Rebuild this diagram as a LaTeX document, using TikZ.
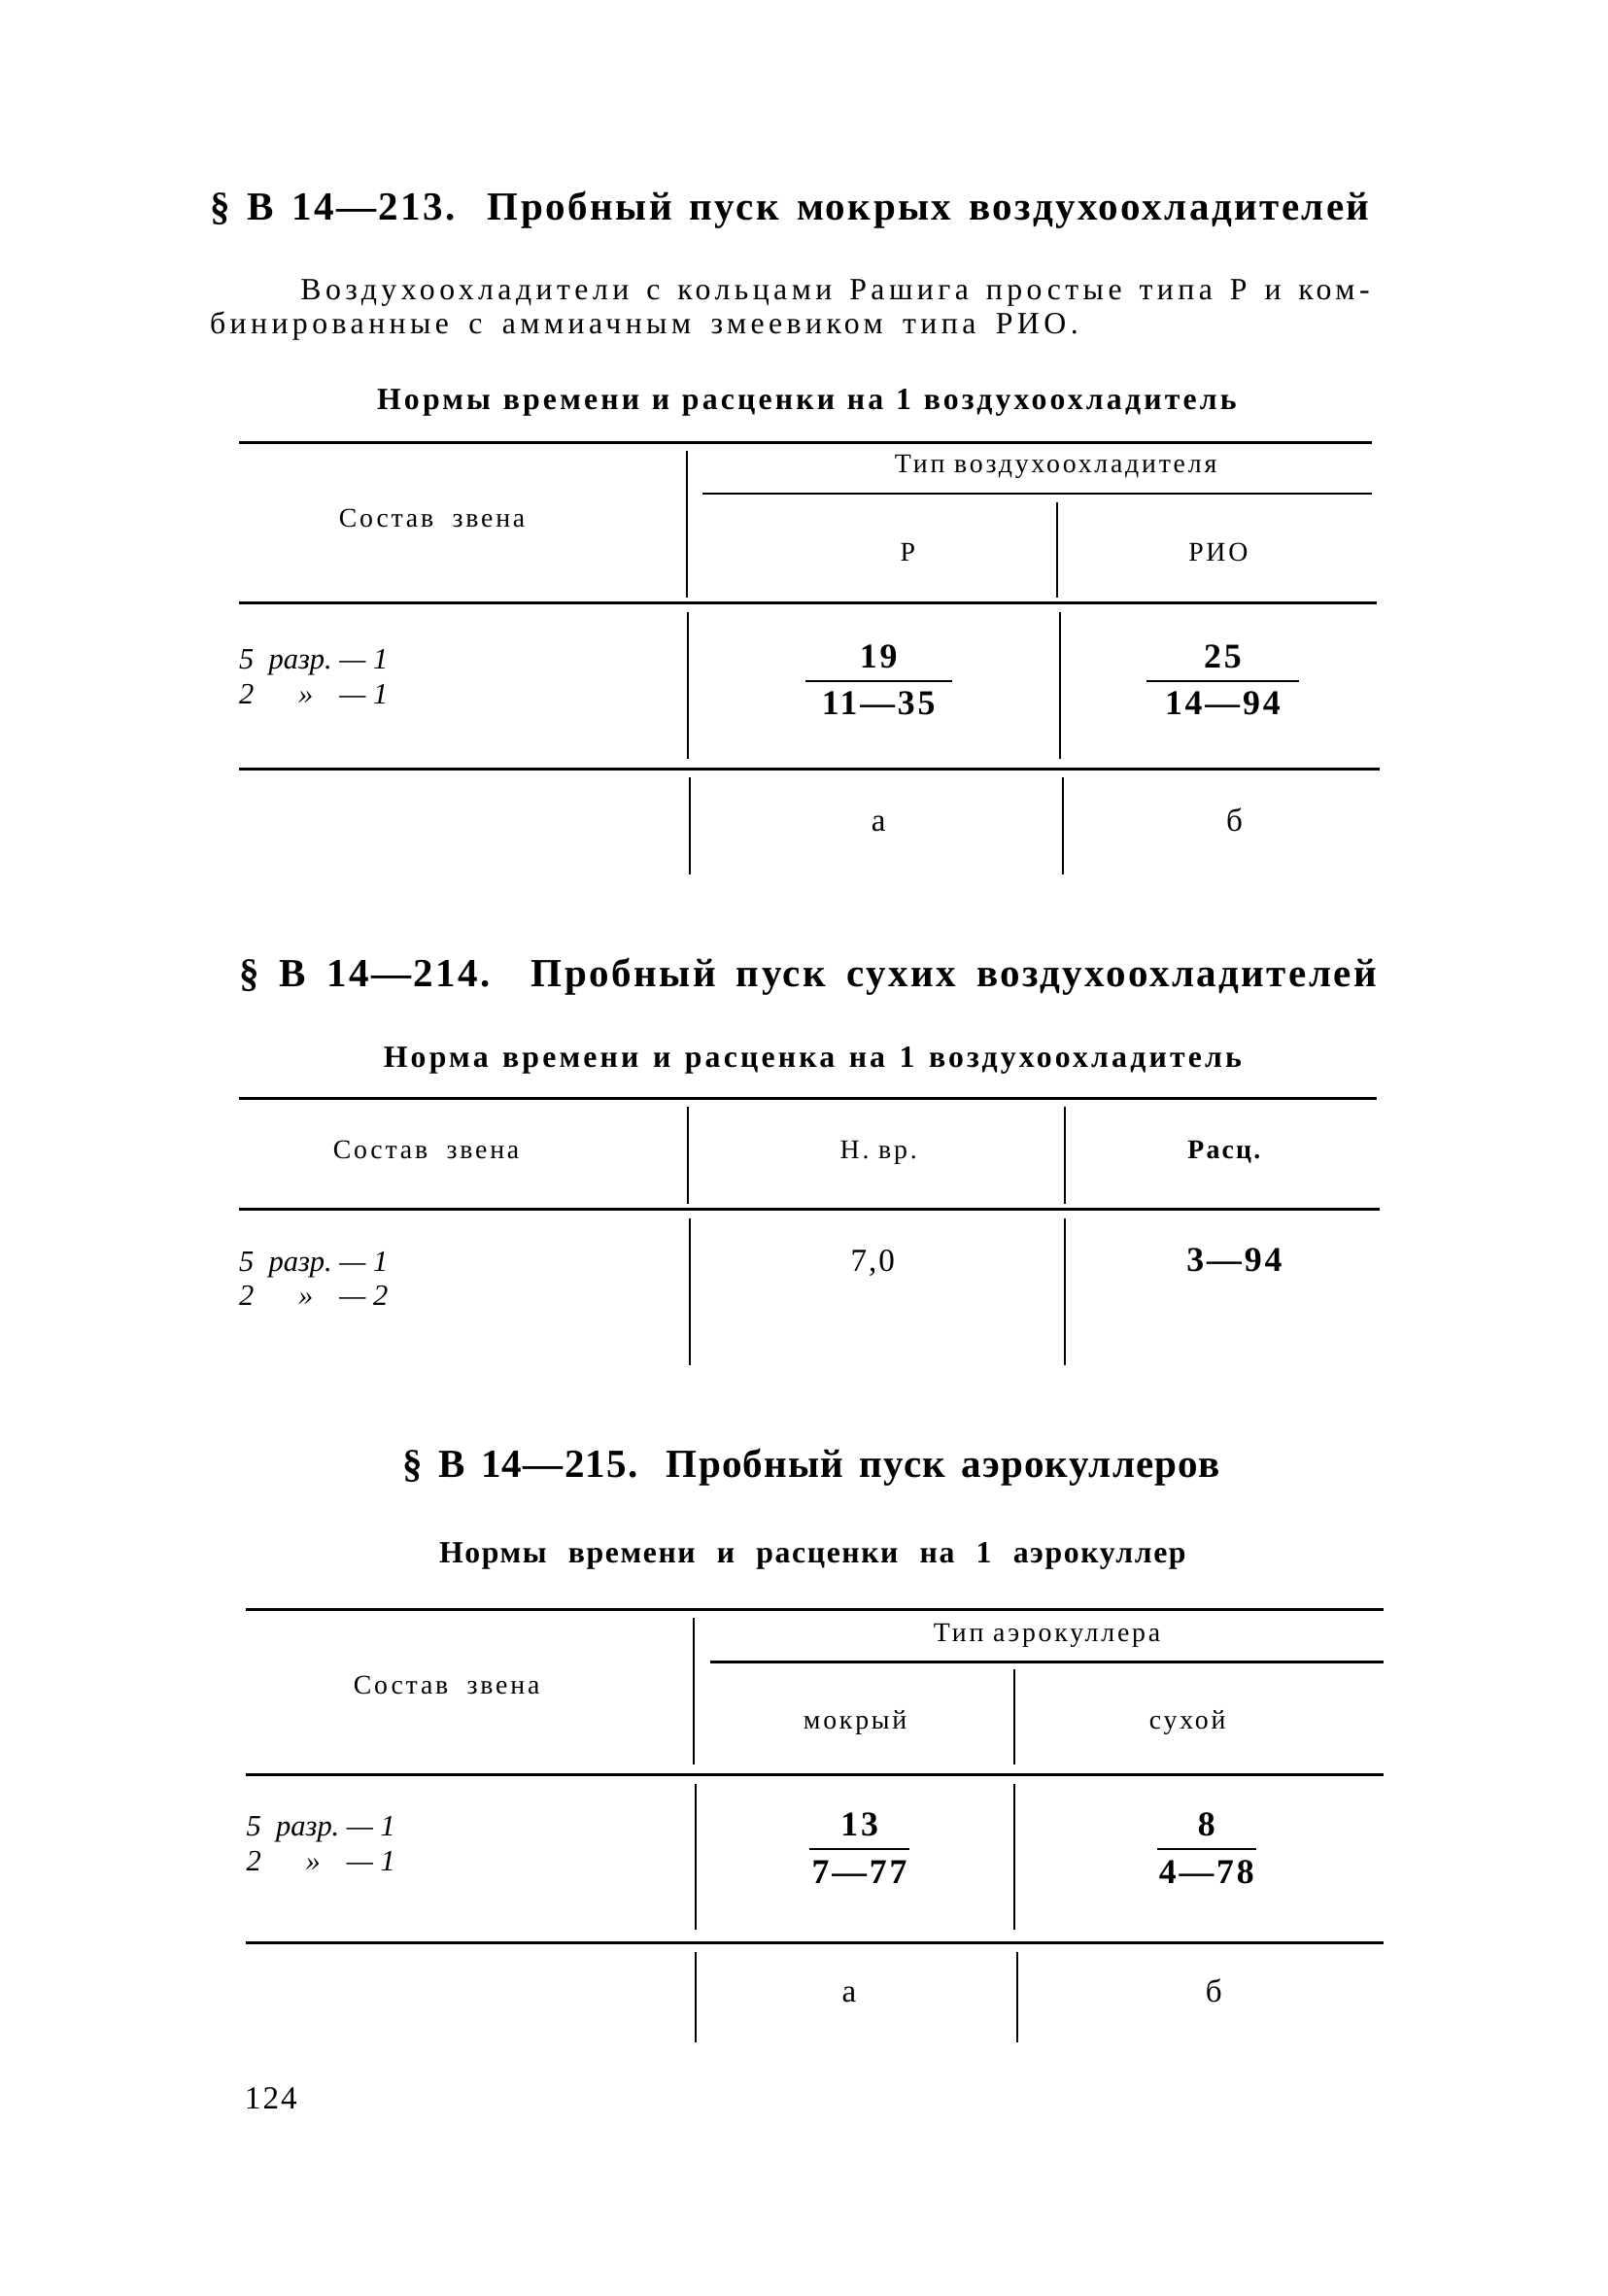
\documentclass[tikz,border=0pt]{standalone}
\usepackage{fontspec}
\setmainfont{Liberation Serif}
\usetikzlibrary{positioning}
\newcommand{\spread}[2]{\makebox[#1][s]{#2}}
\newcommand{\crewtab}[1]{\begin{tabular}{@{}l@{\ \ }l@{\ }l@{}}5 & разр. & — 1\\ 2 & \ \ \ \ » & — #1\end{tabular}}

\begin{document}
\begin{tikzpicture}[x=0.2mm,y=-0.2mm,
		hrule/.style={line width=1.1pt},
		vrule/.style={line width=0.7pt},
		head/.style={anchor=base west,inner sep=0,font=\bfseries\fontsize{15.5}{18}\selectfont\addfontfeature{LetterSpace=6}},
		para/.style={anchor=base west,inner sep=0,font=\fontsize{12}{14}\selectfont\addfontfeature{LetterSpace=14}},
		title/.style={anchor=base,inner sep=0,font=\bfseries\fontsize{12}{14}\selectfont\addfontfeature{LetterSpace=10}},
		colhead/.style={anchor=base,inner sep=0,font=\fontsize{10.5}{12}\selectfont\addfontfeature{LetterSpace=10}},
		cell/.style={anchor=base,inner sep=0,font=\fontsize{12.5}{14}\selectfont\addfontfeature{LetterSpace=6}},
		num/.style={cell,font=\bfseries\fontsize{13.5}{15}\selectfont\addfontfeature{LetterSpace=8}},
		crew/.style={anchor=north west,inner sep=0,font=\itshape\fontsize{11.5}{13.5}\selectfont}]

			\useasboundingbox (0,0) rectangle (1098,1568);

			% rate with fraction bar
			\newcommand{\rate}[6]{%
				\node[num] (#1n) at (#2,#3-9) {#4};
				\node[num] (#1d) at (#2,#3+23) {#5};
				\draw[line width=0.8pt] (#2-#6,#3) -- (#2+#6,#3);}

			% ---------- B 14-213
			\node[head] (h1) at (143,150) {\spread{158.4mm}{§ В 14—213. Пробный пуск мокрых воздухоохладителей}};
			\node[para] (p1) at (205,205) {\spread{146mm}{Воздухоохладители с кольцами Рашига простые типа Р и ком-}};
			\node[para] (p2) at (143,228) {\spread{118.6mm}{бинированные с аммиачным змеевиком типа РИО.}};
			\node[title] (t1) at (551,280) {\spread{117.4mm}{Нормы времени и расценки на 1 воздухоохладитель}};

			\draw[hrule] (163,302) -- (937,302);
			\draw[vrule] (469,308) -- (469,408);
			\draw[line width=0.9pt] (480,337) -- (937,337);
			\draw[vrule] (722,343) -- (722,408);
			\draw[hrule] (163,412) -- (940,412);
			\draw[vrule] (470,418) -- (470,518);
			\draw[vrule] (724,418) -- (724,518);
			\draw[hrule] (163,525) -- (942,525);
			\draw[vrule] (471,531) -- (471,597);
			\draw[vrule] (726,531) -- (726,597);

			\node[colhead] (k1) at (721,323) {Тип воздухоохладителя};
			\node[colhead] (s1) at (295,360) {Состав\ \ звена};
			\node[colhead] (r1) at (620,383) {Р};
			\node[colhead] (q1) at (832,383) {РИО};
			\node[crew] (c1) at (163,440) {\crewtab{1}};
			\rate{a1}{600}{465}{19}{11—35}{50}
			\rate{b1}{835}{465}{25}{14—94}{52}
			\node[cell] (x1) at (600,568) {а};
			\node[cell] (y1) at (843,568) {б};

			% ---------- B 14-214
			\node[head] (h2) at (163,674) {\spread{155.4mm}{§ В 14—214. Пробный пуск сухих воздухоохладителей}};
			\node[title] (t2) at (555,729) {\spread{117.2mm}{Норма времени и расценка на 1 воздухоохладитель}};

			\draw[hrule] (163,750) -- (940,750);
			\draw[vrule] (470,756) -- (470,822);
			\draw[vrule] (727,756) -- (727,822);
			\draw[hrule] (163,826) -- (942,826);
			\draw[vrule] (471,832) -- (471,932);
			\draw[vrule] (727,832) -- (727,932);

			\node[colhead] (s2) at (291,791) {Состав\ \ звена};
			\node[colhead] (n2) at (600,791) {Н. вр.};
			\node[colhead,font=\bfseries\fontsize{10.5}{12}\selectfont\addfontfeature{LetterSpace=8}] (r2) at (836,791) {Расц.};
			\node[crew] (c2) at (163,851) {\crewtab{2}};
			\node[cell] (a2) at (596,868) {7,0};
			\node[num] (b2) at (843,868) {3—94};

			% ---------- B 14-215
			\node[head,font=\bfseries\fontsize{15.5}{18}\selectfont\addfontfeature{LetterSpace=3}] (h3) at (275,1009) {\spread{111.6mm}{§ В 14—215. Пробный пуск аэрокуллеров}};
			\node[title,font=\bfseries\fontsize{12}{14}\selectfont\addfontfeature{LetterSpace=5}] (t3) at (555,1067) {\spread{102mm}{Нормы времени и расценки на 1 аэрокуллер}};

			\draw[hrule] (168,1099) -- (945,1099);
			\draw[vrule] (474,1105) -- (474,1205);
			\draw[line width=0.9pt] (485,1135) -- (945,1135);
			\draw[vrule] (693,1140) -- (693,1205);
			\draw[hrule] (168,1212) -- (945,1212);
			\draw[vrule] (475,1218) -- (475,1318);
			\draw[vrule] (693,1218) -- (693,1318);
			\draw[hrule] (168,1327) -- (945,1327);
			\draw[vrule] (475,1333) -- (475,1395);
			\draw[vrule] (695,1333) -- (695,1395);

			\node[colhead] (k3) at (715,1121) {Тип аэрокуллера};
			\node[colhead] (s3) at (305,1157) {Состав\ \ звена};
			\node[colhead] (r3) at (584,1181) {мокрый};
			\node[colhead] (q3) at (811,1181) {сухой};
			\node[crew] (c3) at (168,1237) {\crewtab{1}};
			\rate{a3}{587}{1263}{13}{7—77}{34}
			\rate{b3}{824}{1263}{8}{4—78}{34}
			\node[cell] (x3) at (580,1367) {а};
			\node[cell] (y3) at (829,1367) {б};

			\node[cell] (pg) at (185,1440) {124};

		\end{tikzpicture}
\end{document}
